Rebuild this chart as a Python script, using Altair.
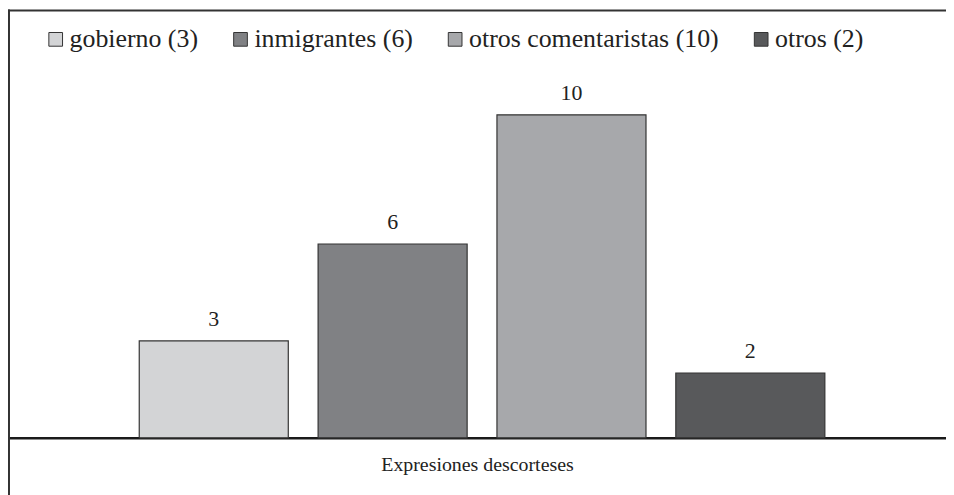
import altair as alt
import pandas as pd

categories = ["gobierno (3)", "inmigrantes (6)", "otros comentaristas (10)", "otros (2)"]
values = [3, 6, 10, 2]
colors = ["#d3d4d6", "#808184", "#a7a8ab", "#58595b"]
x_title = "Expresiones descorteses"

W = 944
H = 431
FONT = "Liberation Serif"

df = pd.DataFrame({"cat": categories, "val": values})

x_enc = alt.X(
    "cat:N",
    sort=categories,
    scale=alt.Scale(paddingInner=0.1667, paddingOuter=0.7056, align=0.52),
    axis=alt.Axis(
        title=x_title,
        labels=False,
        ticks=False,
        domain=True,
        domainColor="#1a1a1a",
        domainWidth=2.5,
        titlePadding=17,
    ),
)
y_enc = alt.Y("val:Q", scale=alt.Scale(domain=[0, 13.26], nice=False, zero=True), axis=None)

bars = alt.Chart(df).mark_bar(stroke="#333333", strokeWidth=1.2).encode(
    x=x_enc,
    y=y_enc,
    color=alt.Color(
        "cat:N",
        sort=categories,
        scale=alt.Scale(domain=categories, range=colors),
        legend=alt.Legend(
            title=None,
            orient="none",
            legendX=35,
            legendY=17,
            direction="horizontal",
            symbolType="square",
            symbolSize=190,
            symbolStrokeColor="#333333",
            symbolStrokeWidth=1,
            symbolOpacity=1,
            labelLimit=0,
            labelOffset=1,
            columnPadding=29,
        ),
    ),
)

labels = alt.Chart(df).mark_text(
    baseline="bottom", dy=-10, font=FONT, fontSize=22, color="#222222"
).encode(x=alt.X("cat:N", sort=categories), y=y_enc, text="val:Q")

frame_data = alt.Data(values=[{"k": 1}])
top_line = alt.Chart(frame_data).mark_rule(color="#333333", strokeWidth=2).encode(
    x=alt.value(0), x2=alt.value(W + 20), y=alt.value(1)
)
left_line = alt.Chart(frame_data).mark_rule(color="#333333", strokeWidth=2).encode(
    x=alt.value(1), y=alt.value(0), y2=alt.value(H + 60)
)

chart = (
    alt.layer(bars, labels, top_line, left_line)
    .properties(
        width=W,
        height=H,
        autosize=alt.AutoSizeParams(type="none"),
        padding={"left": 0, "top": 0, "right": 0, "bottom": 56},
    )
    .configure(font=FONT)
    .configure_view(stroke=None)
    .configure_legend(labelFont=FONT, labelFontSize=26, labelColor="#222222")
    .configure_axis(titleFont=FONT, titleFontSize=20, titleFontWeight="normal", titleColor="#222222")
)

chart.save("out.html", embed_options={"renderer": "svg", "actions": False})
